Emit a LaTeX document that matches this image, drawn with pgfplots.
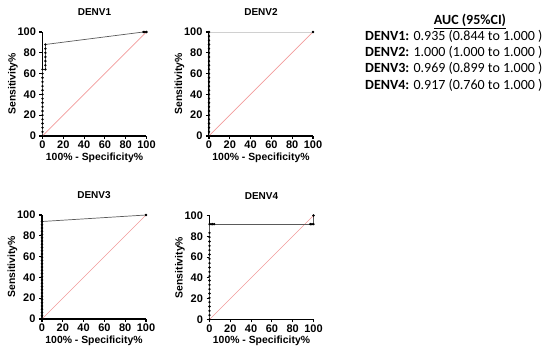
\documentclass[border=0pt]{standalone}
\usepackage{fontspec}
\setmainfont{Liberation Sans}
\newfontfamily\calfont{Carlito}
\usepackage{pgfplots}
\pgfplotsset{compat=1.18}
\definecolor{diag}{HTML}{F29A9A}
\definecolor{roc}{HTML}{5A5A5A}
\definecolor{rocl}{HTML}{D0D0D0}
\pgfplotsset{rocax/.style={
  width=104pt,height=104pt,scale only axis,
  xmin=0,xmax=100,ymin=0,ymax=100,
  axis lines*=left, axis line style={line width=1.4pt,-},
  xtick={0,20,...,100}, ytick={0,20,...,100},
  tick align=outside, major tick length=3pt, tick style={black, line width=1.1pt},
  /pgf/number format/assume math mode=true,
  ticklabel style={font=\bfseries\fontsize{11}{12}\selectfont},
  xticklabel style={yshift=1.5pt},
  xlabel={100\% - Specificity\%}, ylabel={Sensitivity\%},
  label style={font=\bfseries\fontsize{10.4}{12}\selectfont},
  xlabel style={yshift=3pt},
  ylabel shift=-7pt,
  every axis title/.style={at={(0.5,1)}, anchor=base, yshift=16pt, font=\bfseries\fontsize{10}{12}\selectfont},
  clip=false, anchor=south west,
}}
\pgfplotsset{rocpl/.style={line width=0.7pt, mark=*, mark size=0.8pt, mark options={black, fill=black, solid}}}
\begin{document}
\begin{tikzpicture}
\useasboundingbox (0pt,0pt) rectangle (550pt,353pt);
% DENV1
\begin{axis}[rocax, at={(42.5pt,217pt)}, title={DENV1}]
\addplot[color=diag, line width=0.7pt] coordinates {(0,0)(100,100)};
\addplot[roc, rocpl] coordinates {(0,0)(0,4)(0,8)(0,12)(0,16)(0,20)(0,24)(0,28)(0,32)(0,36)(0,40)(0,44)(0,48)(0,52)(0,56)(0,60)(0,64)(2.8,64)(2.8,68)(2.8,72)(2.8,76)(2.8,80)(2.8,84)(2.8,88)(97,100)(98.5,100)(100,100)};
\end{axis}
% DENV2
\begin{axis}[rocax, at={(209pt,217pt)}, title={DENV2}]
\addplot[color=diag, line width=0.7pt] coordinates {(0,0)(100,100)};
\addplot[rocl, rocpl] coordinates {(0,0)(0,4)(0,8)(0,12)(0,16)(0,20)(0,24)(0,28)(0,32)(0,36)(0,40)(0,44)(0,48)(0,52)(0,56)(0,60)(0,64)(0,68)(0,72)(0,76)(0,80)(0,84)(0,88)(0,92)(0,96)(0,100)(100,100)};
\end{axis}
% DENV3
\begin{axis}[rocax, at={(42pt,34pt)}, title={DENV3}]
\addplot[color=diag, line width=0.7pt] coordinates {(0,0)(100,100)};
\addplot[roc, rocpl] coordinates {(0,0)(0,3.125)(0,6.25)(0,9.375)(0,12.5)(0,15.625)(0,18.75)(0,21.875)(0,25)(0,28.125)(0,31.25)(0,34.375)(0,37.5)(0,40.625)(0,43.75)(0,46.875)(0,50)(0,53.125)(0,56.25)(0,59.375)(0,62.5)(0,65.625)(0,68.75)(0,71.875)(0,75)(0,78.125)(0,81.25)(0,84.375)(0,87.5)(0,90.625)(0,93.75)(100,100)};
\end{axis}
% DENV4
\begin{axis}[rocax, at={(209.5pt,33.5pt)}, title={DENV4}]
\addplot[color=diag, line width=0.7pt] coordinates {(0,0)(100,100)};
\addplot[roc, rocpl] coordinates {(0,0)(0,4.17)(0,8.33)(0,12.5)(0,16.67)(0,20.83)(0,25)(0,29.17)(0,33.33)(0,37.5)(0,41.67)(0,45.83)(0,50)(0,54.17)(0,58.33)(0,62.5)(0,66.67)(0,70.83)(0,75)(0,79.17)(0,83.33)(0,91.67)(1.5,91.67)(3,91.67)(4.5,91.67)(97,91.67)(98.5,91.67)(100,91.67)(100,100)};
\end{axis}
% AUC text
\node[anchor=base, font=\calfont\bfseries\fontsize{14}{16}\selectfont, inner sep=0pt] at (470pt,328.5pt) {\underline{AUC (95\%CI)}};
\node[anchor=base west, font=\calfont\fontsize{14}{16}\selectfont, inner sep=0pt] at (365pt,312.5pt) {\textbf{DENV1:} 0.935 (0.844 to 1.000 )};
\node[anchor=base west, font=\calfont\fontsize{14}{16}\selectfont, inner sep=0pt] at (365pt,296.5pt) {\textbf{DENV2:} 1.000 (1.000 to 1.000 )};
\node[anchor=base west, font=\calfont\fontsize{14}{16}\selectfont, inner sep=0pt] at (365pt,280pt) {\textbf{DENV3:} 0.969 (0.899 to 1.000 )};
\node[anchor=base west, font=\calfont\fontsize{14}{16}\selectfont, inner sep=0pt] at (365pt,263.5pt) {\textbf{DENV4:} 0.917 (0.760 to 1.000 )};
\end{tikzpicture}
\end{document}
